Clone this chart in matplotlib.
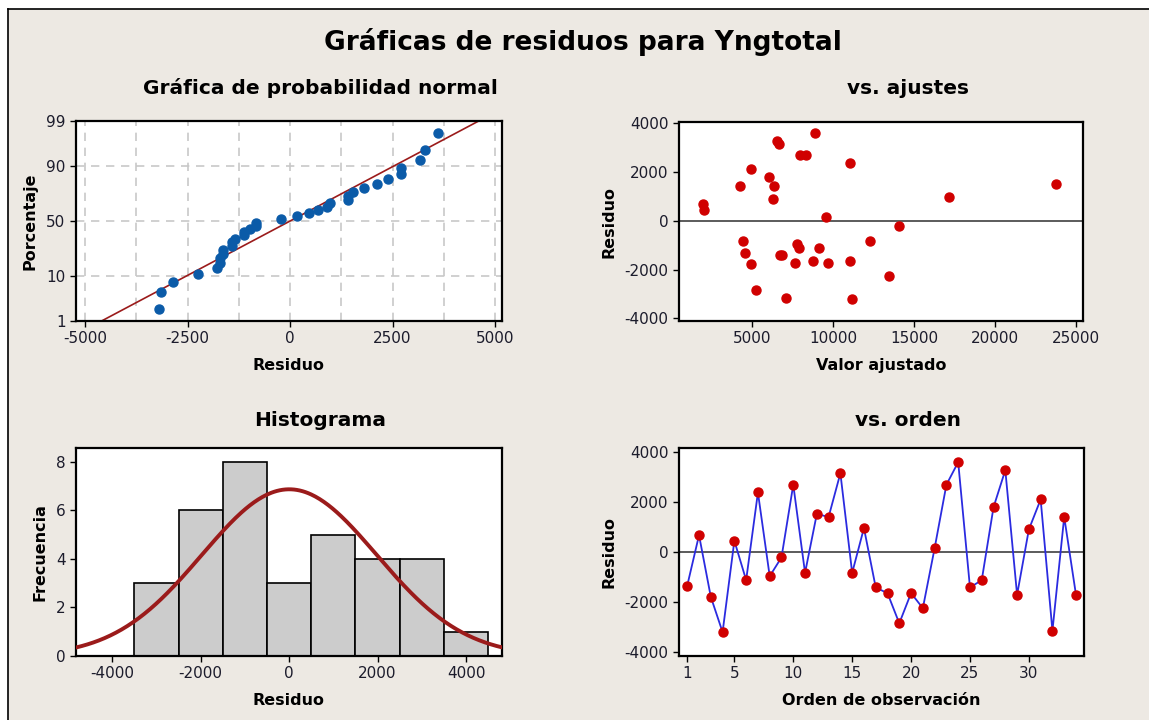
from statistics import NormalDist
import numpy as np
import matplotlib
matplotlib.use("Agg")
import matplotlib.pyplot as plt
from matplotlib.lines import Line2D
from matplotlib.patches import Rectangle

# --------------------------
# Data
# --------------------------
orden = list(range(1, 35))
residuos = [-1340, 680, -1790, -3205, 455, -1120, 2390, -965, -210, 2700,
            -830, 1530, 1410, 3160, -830, 965, -1415, -1645, -2850, -1640,
            -2245, 160, 2700, 3605, -1415, -1120, 1800, 3285, -1710, 910,
            2110, -3150, 1410, -1710]
ajustados = [4550, 1930, 4900, 11150, 2010, 7870, 11040, 7740, 14090, 7950,
             4440, 23790, 4240, 6630, 12300, 17190, 6710, 11060, 5230, 8770,
             13430, 9560, 8320, 8880, 6840, 9100, 6010, 6500, 9680, 6260,
             4900, 7060, 6360, 7640]
bordes_hist = [-3500, -2500, -1500, -500, 500, 1500, 2500, 3500, 4500]
pct_ticks = [1, 10, 50, 90, 99]

BG = "#EDE9E3"
TXT = "#1c1c2c"
BLUE_PT = "#0B5BA8"
RED_PT = "#D00000"
DARKRED = "#9B1B1B"
LINE_BLUE = "#2B2BE0"

res = np.array(residuos, dtype=float)
n = len(res)
mu = res.mean()
sd = res.std(ddof=1)
nd = NormalDist()

plt.rcParams["font.family"] = ["DejaVu Sans"]
plt.rcParams["axes.unicode_minus"] = False

fig = plt.figure(figsize=(11.49, 7.2), dpi=100)
fig.patch.set_facecolor("white")
W, H = 1149, 720
fig.add_artist(Rectangle((8 / W, 0), 1 - 8 / W, 1 - 9 / H, transform=fig.transFigure,
                         facecolor=BG, edgecolor="none", zorder=-10))
fig.add_artist(Line2D([8 / W, 1], [1 - 9 / H, 1 - 9 / H], transform=fig.transFigure,
                      color="black", lw=1.2))
fig.add_artist(Line2D([8 / W, 8 / W], [0, 1 - 9 / H], transform=fig.transFigure,
                      color="black", lw=1.2))


def make_ax(l, t, r, b):
    ax = fig.add_axes([l / W, 1 - b / H, (r - l) / W, (b - t) / H])
    ax.set_facecolor("white")
    for s in ax.spines.values():
        s.set_linewidth(1.6)
        s.set_color("black")
    ax.tick_params(direction="out", length=4, width=1, colors="black",
                   labelcolor=TXT, labelsize=11)
    return ax


def style(ax, title, tx, ty, xlabel, ylabel):
    # panel titles are centred on the whole panel, not on the axes
    fig.text(tx / W, 1 - ty / H, title, ha="center", va="center",
             fontsize=14.5, fontweight="bold")
    ax.set_xlabel(xlabel, fontsize=11.5, fontweight="bold", labelpad=8)
    ax.set_ylabel(ylabel, fontsize=11.5, fontweight="bold", labelpad=6)


# --------------------------
# Normal probability plot
# --------------------------
ax1 = make_ax(76, 121, 502, 321)
orden_sort = np.sort(res)
pct = [(i - 0.3) / (n + 0.4) for i in range(1, n + 1)]
z = [nd.inv_cdf(p) for p in pct]
zlo, zhi = nd.inv_cdf(0.01), nd.inv_cdf(0.99)
for g in np.arange(-5000, 5001, 1250):
    ax1.axvline(g, color="#c8c8c8", ls=(0, (5, 4)), lw=1.2, zorder=0)
for p in [10, 50, 90]:
    ax1.axhline(nd.inv_cdf(p / 100), color="#c8c8c8", ls=(0, (5, 4)), lw=1.2, zorder=0)
zl = np.linspace(zlo, zhi, 50)
ax1.plot(mu + sd * zl, zl, color=DARKRED, lw=1.2, zorder=2)
ax1.plot(orden_sort, z, "o", color=BLUE_PT, ms=6.5, zorder=3)
ax1.set_xlim(-5220, 5170)
ax1.set_ylim(zlo, zhi)
ax1.set_xticks([-5000, -2500, 0, 2500, 5000])
ax1.set_yticks([nd.inv_cdf(p / 100) for p in pct_ticks])
ax1.set_yticklabels([str(p) for p in pct_ticks])
style(ax1, "Gráfica de probabilidad normal", 320, 88, "Residuo", "Porcentaje")

# --------------------------
# vs. ajustes
# --------------------------
ax2 = make_ax(679, 122, 1083, 321)
ax2.axhline(0, color="#404040", lw=1.2, zorder=1)
ax2.plot(ajustados, residuos, "o", color=RED_PT, ms=6.5, zorder=3)
ax2.set_xlim(465, 25450)
ax2.set_ylim(-4110, 4055)
ax2.set_xticks([5000, 10000, 15000, 20000, 25000])
ax2.set_yticks([-4000, -2000, 0, 2000, 4000])
style(ax2, "vs. ajustes", 908, 88, "Valor ajustado", "Residuo")

# --------------------------
# Histogram
# --------------------------
ax3 = make_ax(76, 448, 502, 656)
ax3.hist(res, bins=bordes_hist, color="#CCCCCC", edgecolor="black", lw=1.2, zorder=2)
xs = np.linspace(-4821, 4814, 300)
pdf = np.array([NormalDist(mu, sd).pdf(x) for x in xs])
ax3.plot(xs, pdf * n * 1000, color=DARKRED, lw=2.8, zorder=3)
ax3.set_xlim(-4821, 4814)
ax3.set_ylim(0, 8.56)
ax3.set_xticks([-4000, -2000, 0, 2000, 4000])
ax3.set_yticks([0, 2, 4, 6, 8])
style(ax3, "Histograma", 320, 420, "Residuo", "Frecuencia")

# --------------------------
# vs. orden
# --------------------------
ax4 = make_ax(679, 448, 1084, 656)
ax4.axhline(0, color="#404040", lw=1.2, zorder=1)
ax4.plot(orden, residuos, "-", color=LINE_BLUE, lw=1.3, zorder=2)
ax4.plot(orden, residuos, "o", color=RED_PT, ms=6.5, zorder=3)
ax4.set_xlim(0.3, 34.68)
ax4.set_ylim(-4160, 4172)
ax4.set_xticks([1, 5, 10, 15, 20, 25, 30])
ax4.set_yticks([-4000, -2000, 0, 2000, 4000])
style(ax4, "vs. orden", 908, 420, "Orden de observación", "Residuo")

fig.text(583 / W, 1 - 42 / H, "Gráficas de residuos para Yngtotal",
         ha="center", va="center", fontsize=19, fontweight="bold")

plt.savefig("out.png", dpi=100, facecolor=fig.get_facecolor())
